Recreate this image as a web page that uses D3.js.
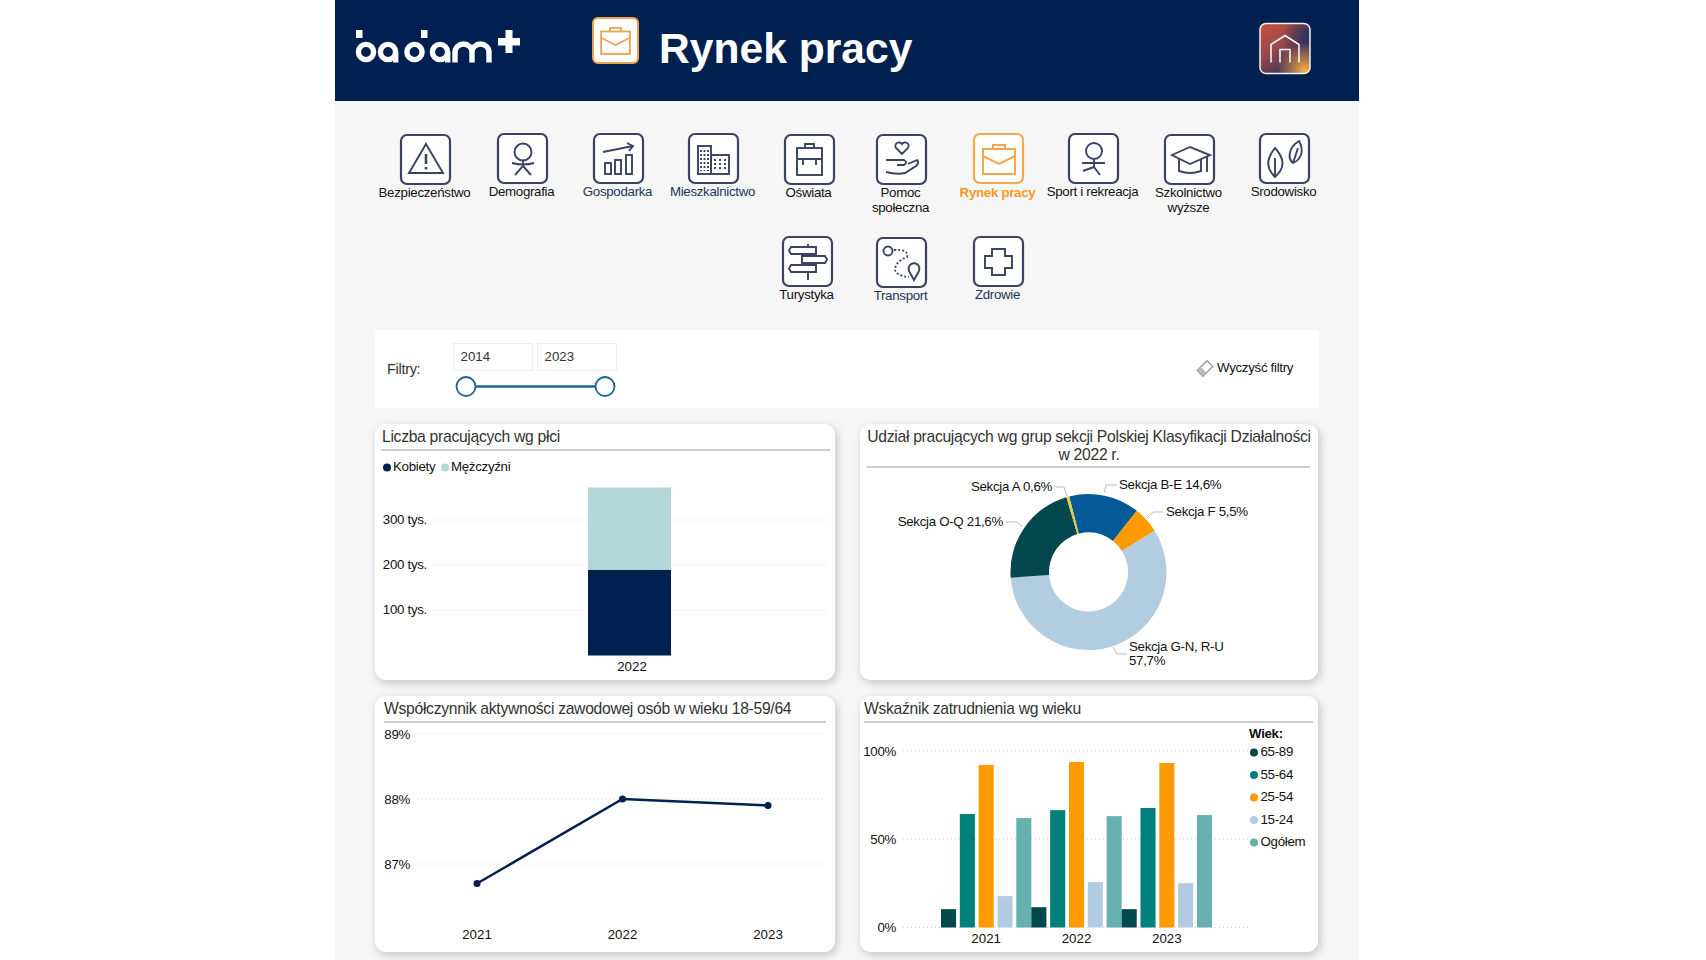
<!DOCTYPE html>
<html>
<head>
<meta charset="utf-8">
<title>Rynek pracy</title>
<script src="https://cdn.jsdelivr.net/npm/d3@7"></script>
<style>
  html, body { margin: 0; padding: 0; background: #fff; overflow: hidden; }
  text { font-family: "Liberation Sans", Arial, sans-serif; }
  .grid line { stroke: #d4d4d4; stroke-dasharray: 1 3; }
  .panel { filter: drop-shadow(2px 3px 4px rgba(0,0,0,0.2)); }
</style>
</head>
<body>
<svg id="svg" width="1706" height="960"></svg>
<script>
// data
var topics = ["Bezpieczeństwo", "Demografia", "Gospodarka", "Mieszkalnictwo", "Oświata", "Pomoc|społeczna",
  "Rynek pracy", "Sport i rekreacja", "Szkolnictwo|wyższe", "Srodowisko", "Turystyka", "Transport", "Zdrowie"];
var filterYears = ["2014", "2023"];

var genderYears = ["2022"];
var genderSeries = ["Kobiety", "Mężczyźni"];
var genderValues = [[190], [182]];
var genderTicks = [100, 200, 300];

var pieLabels = ["Sekcja B-E 14,6%", "Sekcja F 5,5%", "Sekcja G-N, R-U|57,7%", "Sekcja O-Q 21,6%", "Sekcja A 0,6%"];
var pieValues = [14.6, 5.5, 57.7, 21.6, 0.6];

var activityYears = ["2021", "2022", "2023"];
var activityValues = [86.7, 88.0, 87.9];
var activityTicks = [87, 88, 89];

var ageGroups = ["65-89", "55-64", "25-54", "15-24", "Ogółem"];
var ageYears = ["2021", "2022", "2023"];
var ageValues = [
  [10.4, 64.3, 92.1, 17.8, 62.0],
  [11.5, 66.5, 93.8, 25.7, 63.1],
  [10.4, 67.7, 93.2, 25.1, 63.7]
];
var ageTicks = [0, 50, 100];

// colours
var NAVY = "#002050";
var pieColors = ["#035a96", "#ff9b00", "#b3cde0", "#03484c", "#e3cc3c"];
var ageColors = ["#03484c", "#00807c", "#ff9b00", "#b3cbe0", "#66b0b0"];
var genderColors = [NAVY, "#b3d7d6"];

// icon boxes, left/top corner and where the label goes
var iconLayout = [
  [401, 135, 192], [498, 134, 191], [594, 134, 191], [689, 134, 191], [785, 135, 192], [877, 135, 192],
  [974, 134, 192], [1069, 134, 191], [1165, 135, 192], [1260, 134, 191], [783, 237, 294], [877, 238, 295], [974, 237, 294]
];
var labelColors = ["#111", "#111", "#1c3557", "#1c3557", "#111", "#111", "#f59a23", "#111", "#111", "#111", "#111", "#1c3557", "#1c3557"];

var svg = d3.select("#svg");

function text(g, x, y, str, size, opts) {
  opts = opts || {};
  var t = g.append("text").attr("x", x).attr("y", y).attr("dy", "0.35em")
    .attr("font-size", size)
    .attr("text-anchor", opts.anchor || "start")
    .attr("font-weight", opts.weight || "normal")
    .attr("fill", opts.fill || "#111")
    .text(str);
  // the original text runs a bit tighter than ours, years stay as they are
  if (!/^\d+$/.test(str) && size < 20) t.attr("letter-spacing", "-0.3px");
  return t;
}

function draw_page() {
  svg.append("rect").attr("x", 335).attr("y", 0).attr("width", 1024).attr("height", 960).attr("fill", "#f6f6f6");
  svg.append("rect").attr("x", 335).attr("y", 0).attr("width", 1024).attr("height", 101).attr("fill", NAVY);
  draw_logo();

  // suitcase button in header
  var sc = svg.append("g").attr("transform", "translate(593,18)");
  sc.append("rect").attr("width", 45).attr("height", 45).attr("rx", 5).attr("fill", "#fff")
    .attr("stroke", "#eaa24f").attr("stroke-width", 2);
  draw_suitcase(sc, 0.9, "#eaa24f");

  text(svg, 659, 48, "Rynek pracy", 42.6, {weight: "bold", fill: "#fff"});
  draw_home();
}

function draw_logo() {
  var g = svg.append("g").attr("fill", "#fff");
  [366, 388, 414.5, 440].forEach(function (cx) {
    g.append("circle").attr("cx", cx).attr("cy", 52).attr("r", 7.6)
      .attr("fill", "none").attr("stroke", "#fff").attr("stroke-width", 5.4);
  });
  // letter tails
  g.append("rect").attr("x", 356).attr("y", 30).attr("width", 6.5).attr("height", 8);
  g.append("rect").attr("x", 421).attr("y", 30).attr("width", 6.5).attr("height", 8);
  g.append("rect").attr("x", 393).attr("y", 52).attr("width", 5.4).attr("height", 10.5);
  g.append("rect").attr("x", 445).attr("y", 52).attr("width", 5.4).attr("height", 10.5);
  g.append("path").attr("fill", "none").attr("stroke", "#fff").attr("stroke-width", 5.4)
    .attr("d", "M455,62.5V52a8,7.5 0 0 1 17,0V62.5M472,52a8,7.5 0 0 1 17,0V62.5");
  g.append("rect").attr("x", 498).attr("y", 38).attr("width", 22).attr("height", 7.5);
  g.append("rect").attr("x", 505.5).attr("y", 30).attr("width", 7).attr("height", 23);
}

function draw_home() {
  var defs = svg.append("defs");
  var lg = defs.append("linearGradient").attr("id", "homeBase").attr("x1", 0).attr("y1", 0).attr("x2", 0.7).attr("y2", 1);
  lg.append("stop").attr("offset", "0%").attr("stop-color", "#c9503a");
  lg.append("stop").attr("offset", "45%").attr("stop-color", "#9c4a4a");
  lg.append("stop").attr("offset", "100%").attr("stop-color", "#2c2f5e");
  var rg = defs.append("radialGradient").attr("id", "homeGlow").attr("cx", 0.9).attr("cy", 0.95).attr("r", 0.55);
  rg.append("stop").attr("offset", "0%").attr("stop-color", "#fbb040");
  rg.append("stop").attr("offset", "100%").attr("stop-color", "#fbb040").attr("stop-opacity", 0);
  var rg2 = defs.append("radialGradient").attr("id", "homeDark").attr("cx", 0.95).attr("cy", 0.25).attr("r", 0.5);
  rg2.append("stop").attr("offset", "0%").attr("stop-color", "#2c2f5e");
  rg2.append("stop").attr("offset", "100%").attr("stop-color", "#2c2f5e").attr("stop-opacity", 0);

  var g = svg.append("g").attr("transform", "translate(1260,23.5)");
  ["homeBase", "homeDark", "homeGlow"].forEach(function (id) {
    g.append("rect").attr("width", 50).attr("height", 50).attr("rx", 6).attr("fill", "url(#" + id + ")");
  });
  g.append("rect").attr("width", 50).attr("height", 50).attr("rx", 6).attr("fill", "none")
    .attr("stroke", "#f2f2f2").attr("stroke-width", 1.5);
  g.append("path").attr("fill", "none").attr("stroke", "#f3f3f3").attr("stroke-width", 1.6)
    .attr("d", "M11,39V21L25,12L39,21V39M20,39V26H30V39");
}

function draw_suitcase(g, s, color) {
  var w = g.append("g").attr("transform", "scale(" + s + ")").attr("fill", "none")
    .attr("stroke", color).attr("stroke-width", 2);
  w.append("rect").attr("x", 9).attr("y", 15).attr("width", 32).attr("height", 25);
  w.append("path").attr("d", "M9,22L25,30L41,22M19,15V11H31V15");
}

// the small pictograms, each one drawn in a 50x50 box
var pictos = [
  function (g) { // warning
    g.append("path").attr("d", "M25,9L42,38H8Z");
    g.append("path").attr("d", "M25,19V29M25,32V34.5").attr("stroke-width", 2.6);
  },
  function (g) { // person
    g.append("circle").attr("cx", 25).attr("cy", 18).attr("r", 8.5);
    g.append("path").attr("d", "M14,29Q25,32 36,29M25,27V32L17,41M25,32L33,41");
  },
  function (g) { // chart
    g.append("rect").attr("x", 11).attr("y", 29).attr("width", 6).attr("height", 11);
    g.append("rect").attr("x", 21).attr("y", 26).attr("width", 6).attr("height", 14);
    g.append("rect").attr("x", 32).attr("y", 21).attr("width", 6).attr("height", 19);
    g.append("path").attr("d", "M9,18L39,12M33,9L39,12L35,17");
  },
  function (g) { // blocks
    g.append("rect").attr("x", 9).attr("y", 12).attr("width", 13).attr("height", 28);
    g.append("rect").attr("x", 22).attr("y", 21).attr("width", 18).attr("height", 19);
    g.append("path").attr("d", "M12,16V37M15.5,16V37M19,16V37M26,25V37M31,25V37M36,25V37").attr("stroke-dasharray", "2 2");
  },
  function (g) { // backpack
    g.append("rect").attr("x", 12).attr("y", 13).attr("width", 25).attr("height", 27);
    g.append("path").attr("d", "M20,13V9H29V13M12,24H37M18,24V30M31,24V30");
  },
  function (g) { // hand with a heart
    g.append("path").attr("d", "M25,19L19,13A3.5,3.5 0 0 1 25,9A3.5,3.5 0 0 1 31,13Z");
    g.append("path").attr("d", "M9,25H27Q31,27 27,30H20M31,29L40,25Q43,27 39,31L28,38Q20,40 9,37");
  },
  function (g) { // suitcase
    draw_suitcase(g, 1, "#f4a84b");
  },
  function (g) { // runner
    g.append("circle").attr("cx", 25).attr("cy", 17).attr("r", 8);
    g.append("path").attr("d", "M13,29H36M25,26V33L14,37M25,33L31,41");
  },
  function (g) { // mortar board
    g.append("path").attr("d", "M7,20L25,12L45,20L25,29Z");
    g.append("path").attr("d", "M14,24V36Q25,40 36,36V24M42,21V37");
  },
  function (g) { // leaves
    g.append("path").attr("d", "M15,43C5,33 7,24 15,14C24,24 26,33 15,43ZM15,24V43");
    g.append("path").attr("d", "M33,29C27,24 29,13 39,7C44,16 42,25 33,29ZM33,29L38,14");
  },
  function (g) { // signpost
    g.append("path").attr("d", "M25,7V10M25,18V20M25,26V29M25,35V43M8,10H33V17H8L6,13.5ZM19,19H42L44,22.5L42,26H19ZM8,28H33V35H8L6,31.5Z");
  },
  function (g) { // route
    g.append("circle").attr("cx", 11).attr("cy", 13).attr("r", 4.5);
    g.append("path").attr("d", "M17,12Q32,11 30,19Q18,24 18,32Q20,38 32,39").attr("stroke-dasharray", "2 2");
    g.append("path").attr("d", "M37,42L32,33A5.5,5.5 0 1 1 42,33Z");
  },
  function (g) { // plus
    g.append("path").attr("d", "M18,12H31V19H38V31H31V38H18V31H11V19H18Z");
  }
];

function draw_nav() {
  topics.forEach(function (name, i) {
    var pos = iconLayout[i];
    var g = svg.append("g").attr("transform", "translate(" + pos[0] + "," + pos[1] + ")");
    var active = name === "Rynek pracy";
    g.append("rect").attr("width", 49).attr("height", 49).attr("rx", 6).attr("fill", "#fff")
      .attr("stroke", active ? "#f4a84b" : "#3b4262").attr("stroke-width", 2.2);
    var ink = g.append("g").attr("fill", "none").attr("stroke", "#3b4262").attr("stroke-width", 1.9);
    pictos[i](ink);
    name.split("|").forEach(function (line, k) {
      text(svg, pos[0] + 23.5, pos[2] + k * 15, line, 13.3, {
        anchor: "middle", fill: labelColors[i], weight: active ? "bold" : "normal"
      });
    });
  });
}

function draw_filters() {
  svg.append("rect").attr("x", 375).attr("y", 330).attr("width", 944).attr("height", 78).attr("fill", "#fff");
  text(svg, 387, 369, "Filtry:", 14.5, {fill: "#333"});
  var xs = d3.scalePoint().domain(filterYears).range([466, 605]);
  filterYears.forEach(function (y, i) {
    var left = i === 0 ? 453 : 537;
    svg.append("rect").attr("x", left + 0.5).attr("y", 343.5).attr("width", 79).attr("height", 27)
      .attr("fill", "#fff").attr("stroke", "#eee");
    text(svg, left + 7.5, 356, y, 13.3, {fill: "#333"});
  });
  svg.append("line").attr("x1", xs(filterYears[0])).attr("x2", xs(filterYears[1])).attr("y1", 386.5).attr("y2", 386.5)
    .attr("stroke", "#1a6496").attr("stroke-width", 2.5);
  svg.selectAll(".handle").data(filterYears).enter().append("circle").attr("class", "handle")
    .attr("cx", function (d) { return xs(d); }).attr("cy", 386.5).attr("r", 9.5)
    .attr("fill", "#fff").attr("stroke", "#1a6496").attr("stroke-width", 1.8);

  var er = svg.append("g").attr("transform", "translate(1205,368.5) rotate(-45)");
  er.append("rect").attr("x", -7).attr("y", -4).attr("width", 14).attr("height", 8)
    .attr("fill", "#fff").attr("stroke", "#999").attr("stroke-width", 1.3);
  er.append("rect").attr("x", -7).attr("y", -4).attr("width", 5).attr("height", 8).attr("fill", "#bbb");
  text(svg, 1217, 367.5, "Wyczyść filtry", 13.3);
}

function panel(x, y, w, h, rule) {
  var g = svg.append("g");
  g.append("rect").attr("class", "panel").attr("x", x).attr("y", y).attr("width", w).attr("height", h).attr("rx", 11).attr("fill", "#fff");
  g.append("line").attr("x1", rule[0]).attr("x2", rule[1]).attr("y1", rule[2]).attr("y2", rule[2])
    .attr("stroke", "#bdbdbd").attr("stroke-width", 1.6);
  return g;
}

function draw_gender() {
  var g = panel(375, 424, 460, 256, [381, 830, 450]);
  text(g, 382, 436.5, "Liczba pracujących wg płci", 15.7, {fill: "#333"});

  var y = d3.scaleLinear().domain([0, 300]).range([655.5, 520]);
  var x = d3.scaleBand().domain(genderYears).range([431, 828]).padding(0.4);

  g.append("g").attr("class", "grid").selectAll("line").data(genderTicks).enter().append("line")
    .attr("x1", 433).attr("x2", 829).attr("y1", function (d) { return y(d); }).attr("y2", function (d) { return y(d); });
  genderTicks.forEach(function (t) { text(g, 427, y(t) - 0.5, t + " tys.", 13.3, {anchor: "end"}); });

  var stack = d3.stack().keys(d3.range(genderSeries.length))(genderYears.map(function (yr, i) {
    return genderValues.map(function (s) { return s[i]; });
  }));
  stack.forEach(function (layer, s) {
    g.selectAll(".b" + s).data(layer).enter().append("rect")
      .attr("x", function (d, i) { return x(genderYears[i]) + (x.bandwidth() - 83) / 2; })
      .attr("width", 83)
      .attr("y", function (d) { return y(d[1]); })
      .attr("height", function (d) { return y(d[0]) - y(d[1]); })
      .attr("fill", genderColors[s]);
  });
  text(g, 632, 666, genderYears[0], 13.3, {anchor: "middle"});

  var legendX = [387, 445];
  genderSeries.forEach(function (name, i) {
    g.append("circle").attr("cx", legendX[i]).attr("cy", 467.5).attr("r", 4).attr("fill", genderColors[i]);
    text(g, legendX[i] + 6, 466, name, 13.3);
  });
}

function draw_pie() {
  var g = panel(860, 424, 458, 256, [867, 1310, 467]);
  text(g, 1089, 436.5, "Udział pracujących wg grup sekcji Polskiej Klasyfikacji Działalności", 15.7, {anchor: "middle", fill: "#333"});
  text(g, 1089, 454.5, "w 2022 r.", 15.7, {anchor: "middle", fill: "#333"});

  var cx = 1088.5, cy = 572;
  var startAngle = -14.3 * Math.PI / 180;
  var pie = d3.pie().sort(null).startAngle(startAngle).endAngle(startAngle + 2 * Math.PI);
  var arc = d3.arc().innerRadius(39.5).outerRadius(78);
  var c = g.append("g").attr("transform", "translate(" + cx + "," + cy + ")");
  c.selectAll("path").data(pie(pieValues)).enter().append("path")
    .attr("d", arc).attr("fill", function (d, i) { return pieColors[i]; });

  // label anchors and leaders, same order as pieLabels
  var place = [
    {x: 1119, y: 484, a: "start", leader: "M1117,485H1106L1104,493"},
    {x: 1166, y: 511, a: "start", leader: "M1163,512H1153L1147,518"},
    {x: 1129, y: 646, a: "start", leader: "M1127,654H1117L1113,647"},
    {x: 1003, y: 521, a: "end", leader: "M1006,522H1017L1023,527"},
    {x: 1052, y: 486, a: "end", leader: "M1055,487H1064L1067,496"}
  ];
  pieLabels.forEach(function (lab, i) {
    var p = place[i];
    g.append("path").attr("d", p.leader).attr("fill", "none").attr("stroke", "#bbb");
    lab.split("|").forEach(function (line, k) {
      text(g, p.x, p.y + k * 14, line, 13.3, {anchor: p.a});
    });
  });
}

function draw_activity() {
  var g = panel(375, 696, 460, 256, [384, 826, 722]);
  text(g, 384, 708.5, "Współczynnik aktywności zawodowej osób w wieku 18-59/64", 15.7, {fill: "#333"});

  var y = d3.scaleLinear().domain([87, 89]).range([864, 734]);
  var x = d3.scalePoint().domain(activityYears).range([477, 768]);

  g.append("g").attr("class", "grid").selectAll("line").data(activityTicks).enter().append("line")
    .attr("x1", 418).attr("x2", 825).attr("y1", function (d) { return y(d); }).attr("y2", function (d) { return y(d); });
  activityTicks.forEach(function (t) { text(g, 410, y(t), t + "%", 13.3, {anchor: "end"}); });
  activityYears.forEach(function (yr) { text(g, x(yr), 934, yr, 13.3, {anchor: "middle"}); });

  var line = d3.line().x(function (d, i) { return x(activityYears[i]); }).y(function (d) { return y(d); });
  g.append("path").attr("d", line(activityValues)).attr("fill", "none").attr("stroke", NAVY).attr("stroke-width", 2.4);
  g.selectAll(".pt").data(activityValues).enter().append("circle").attr("class", "pt")
    .attr("cx", function (d, i) { return x(activityYears[i]); }).attr("cy", function (d) { return y(d); })
    .attr("r", 3.5).attr("fill", NAVY);
}

function draw_age() {
  var g = panel(860, 696, 458, 256, [864, 1313, 722]);
  text(g, 864, 708.5, "Wskaźnik zatrudnienia wg wieku", 15.7, {fill: "#333"});

  var y = d3.scaleLinear().domain([0, 100]).range([927.5, 751]);
  var x0 = d3.scaleBand().domain(ageYears).range([941, 1212]);
  var x1 = d3.scaleBand().domain(ageGroups).range([0, x0.bandwidth()]).paddingInner(0.2);

  g.append("g").attr("class", "grid").selectAll("line").data(ageTicks).enter().append("line")
    .attr("x1", 903).attr("x2", 1248).attr("y1", function (d) { return y(d); }).attr("y2", function (d) { return y(d); });
  ageTicks.forEach(function (t) { text(g, 896, y(t), t + "%", 13.3, {anchor: "end"}); });

  ageYears.forEach(function (yr, i) {
    g.selectAll(".bar" + i).data(ageValues[i]).enter().append("rect")
      .attr("x", function (d, k) { return x0(yr) + x1(ageGroups[k]); })
      .attr("width", x1.bandwidth())
      .attr("y", function (d) { return y(d); })
      .attr("height", function (d) { return y(0) - y(d); })
      .attr("fill", function (d, k) { return ageColors[k]; });
    text(g, x0(yr) + x0.bandwidth() / 2, 938, yr, 13.3, {anchor: "middle"});
  });

  text(g, 1249, 733, "Wiek:", 13.3, {weight: "bold"});
  var legendY = d3.scalePoint().domain(ageGroups).range([752, 842]);
  ageGroups.forEach(function (name, i) {
    g.append("circle").attr("cx", 1254).attr("cy", legendY(name) + 0.5).attr("r", 4).attr("fill", ageColors[i]);
    text(g, 1260.5, legendY(name) - 0.5, name, 13.3);
  });
}

draw_page();
draw_nav();
draw_filters();
draw_gender();
draw_pie();
draw_activity();
draw_age();
</script>
</body>
</html>
